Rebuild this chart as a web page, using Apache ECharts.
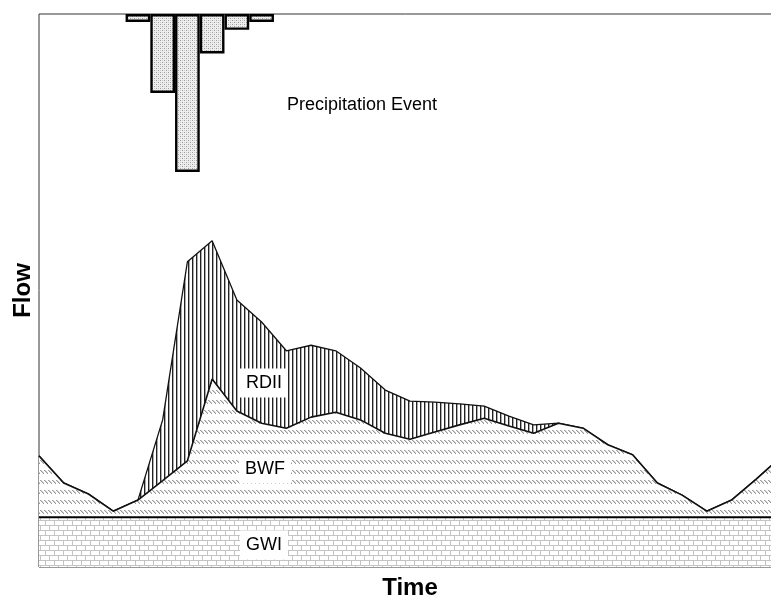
<!DOCTYPE html>
<html>
<head>
<meta charset="utf-8">
<script src="https://cdn.jsdelivr.net/npm/echarts@6/dist/echarts.min.js"></script>
<style>
  html, body { margin: 0; padding: 0; background: #fff; }
  #chart { width: 771px; height: 599px; }
</style>
</head>
<body>
<div id="chart"></div>
<script>
// time steps along the hydrograph
const timeSteps = [0, 1, 2, 3, 4, 5, 6, 7, 8, 9, 10, 11, 12, 13, 14, 15,
  16, 17, 18, 19, 20, 21, 22, 23, 24, 25, 26, 27, 28, 29, 30]
// flow components (stacked)
const gwi = [9, 9, 9, 9, 9, 9, 9, 9, 9, 9, 9, 9, 9, 9, 9, 9,
  9, 9, 9, 9, 9, 9, 9, 9, 9, 9, 9, 9, 9, 9, 9]
const bwf = [11.1, 6.2, 4.2, 1.1, 3.1, 6.6, 10.2, 25.0, 19.2, 17.0, 16.1, 18.1, 19.0, 17.6, 15.2, 14.1,
  15.4, 16.7, 17.9, 16.5, 15.2, 17.0, 16.1, 13.1, 11.3, 6.2, 4.0, 1.1, 3.1, 6.9, 10.9]
const rdii = [0, 0, 0, 0, 0, 11.0, 36.0, 25.0, 20.1, 18.3, 14.0, 13.0, 11.1, 9.4, 7.8, 6.9,
  5.4, 3.8, 2.2, 1.8, 1.5, 0, 0, 0, 0, 0, 0, 0, 0, 0, 0]
// precipitation hyetograph
const precipSteps = [4, 5, 6, 7, 8, 9]
const precipDepth = [0.05, 0.5, 1.0, 0.25, 0.1, 0.05]

const FONT = '"Liberation Sans", Arial, sans-serif'

function makePattern(w, h, draw) {
  const c = document.createElement('canvas')
  c.width = w
  c.height = h
  const ctx = c.getContext('2d')
  ctx.fillStyle = '#fff'
  ctx.fillRect(0, 0, w, h)
  draw(ctx)
  return { image: c, repeat: 'repeat' }
}

const rdiiFill = makePattern(4, 4, (ctx) => {
  ctx.fillStyle = '#222'
  ctx.fillRect(0, 0, 1, 4)
  ctx.fillStyle = '#aaa'
  ctx.fillRect(1, 0, 1, 4)
})

const bwfFill = makePattern(4, 10, (ctx) => {
  ctx.fillStyle = '#9a9a9a'
  for (let k = 0; k < 4; k++) ctx.fillRect(k, k, 1, 1)
  ctx.fillStyle = '#d0d0d0'
  for (let k = 0; k < 3; k++) ctx.fillRect(k + 1, k, 1, 1)
})

const gwiFill = makePattern(18, 10, (ctx) => {
  ctx.fillStyle = '#c4c4c4'
  ctx.fillRect(0, 0, 18, 1)
  ctx.fillRect(0, 5, 18, 1)
  ctx.fillRect(0, 0, 1, 5)
  ctx.fillRect(9, 0, 1, 5)
  ctx.fillRect(4, 5, 1, 5)
  ctx.fillRect(13, 5, 1, 5)
})

const rainFill = makePattern(4, 4, (ctx) => {
  ctx.fillStyle = '#eeeeee'
  ctx.fillRect(0, 0, 4, 4)
  ctx.fillStyle = '#9c9c9c'
  ctx.fillRect(0, 0, 1, 1)
  ctx.fillRect(2, 2, 1, 1)
  ctx.fillStyle = '#cccccc'
  ctx.fillRect(2, 0, 1, 1)
  ctx.fillRect(0, 2, 1, 1)
})

const precip = timeSteps.map((t) => {
  const k = precipSteps.indexOf(t)
  return k >= 0 ? precipDepth[k] : null
})

function labelBox(text, x, y) {
  return {
    type: 'text', x, y, z: 100,
    style: {
      text, font: '18px ' + FONT, fill: '#000',
      align: 'center', verticalAlign: 'middle',
      backgroundColor: '#fff', padding: [6, 6, 5, 6],
    },
  }
}

const hidden = {
  axisLine: { show: false }, axisTick: { show: false },
  axisLabel: { show: false }, splitLine: { show: false },
}
const nameStyle = { fontFamily: FONT, fontSize: 24, fontWeight: 'bold', color: '#000' }

const chart = echarts.init(document.getElementById('chart'))
chart.setOption({
  animation: false,
  grid: {
    left: 39, top: 14, right: -10, bottom: 32,
    outerBoundsMode: 'none',
    show: true, borderColor: '#333', borderWidth: 1, backgroundColor: '#fff',
  },
  xAxis: {
    type: 'category', data: timeSteps, boundaryGap: false,
    name: 'Time', nameLocation: 'middle', nameGap: 9, nameTextStyle: nameStyle,
    ...hidden,
  },
  yAxis: [{
    type: 'value', min: 0, max: 100,
    name: 'Flow', nameLocation: 'middle', nameGap: 4, nameRotate: 90,
    nameTextStyle: nameStyle,
    ...hidden,
  }, {
    type: 'value', min: 0, max: 3.5, inverse: true,
    ...hidden,
  }],
  series: [{
    name: 'GWI', type: 'line', stack: 'flow', z: 4,
    data: gwi, showSymbol: false,
    lineStyle: { color: '#000', width: 2 },
    areaStyle: { color: gwiFill, opacity: 1 },
  }, {
    name: 'BWF', type: 'line', stack: 'flow', z: 3,
    data: bwf, showSymbol: false,
    lineStyle: { color: '#111', width: 1.6 },
    areaStyle: { color: bwfFill, opacity: 1 },
  }, {
    name: 'RDII', type: 'line', stack: 'flow', z: 2,
    data: rdii, showSymbol: false,
    lineStyle: { color: '#111', width: 1.3 },
    areaStyle: { color: rdiiFill, opacity: 1 },
  }, {
    name: 'Precipitation', type: 'bar', yAxisIndex: 1, z: 5,
    data: precip,
    barWidth: 24.7,
    itemStyle: { color: rainFill, borderColor: '#000', borderWidth: 2.4 },
  }],
  graphic: [
    {
      type: 'text', x: 362, y: 105, z: 100,
      style: {
        text: 'Precipitation Event', font: '18px ' + FONT, fill: '#000',
        align: 'center', verticalAlign: 'middle',
      },
    },
    labelBox('RDII', 264, 383),
    labelBox('BWF', 265, 469),
    labelBox('GWI', 264, 545),
  ],
})
</script>
</body>
</html>
